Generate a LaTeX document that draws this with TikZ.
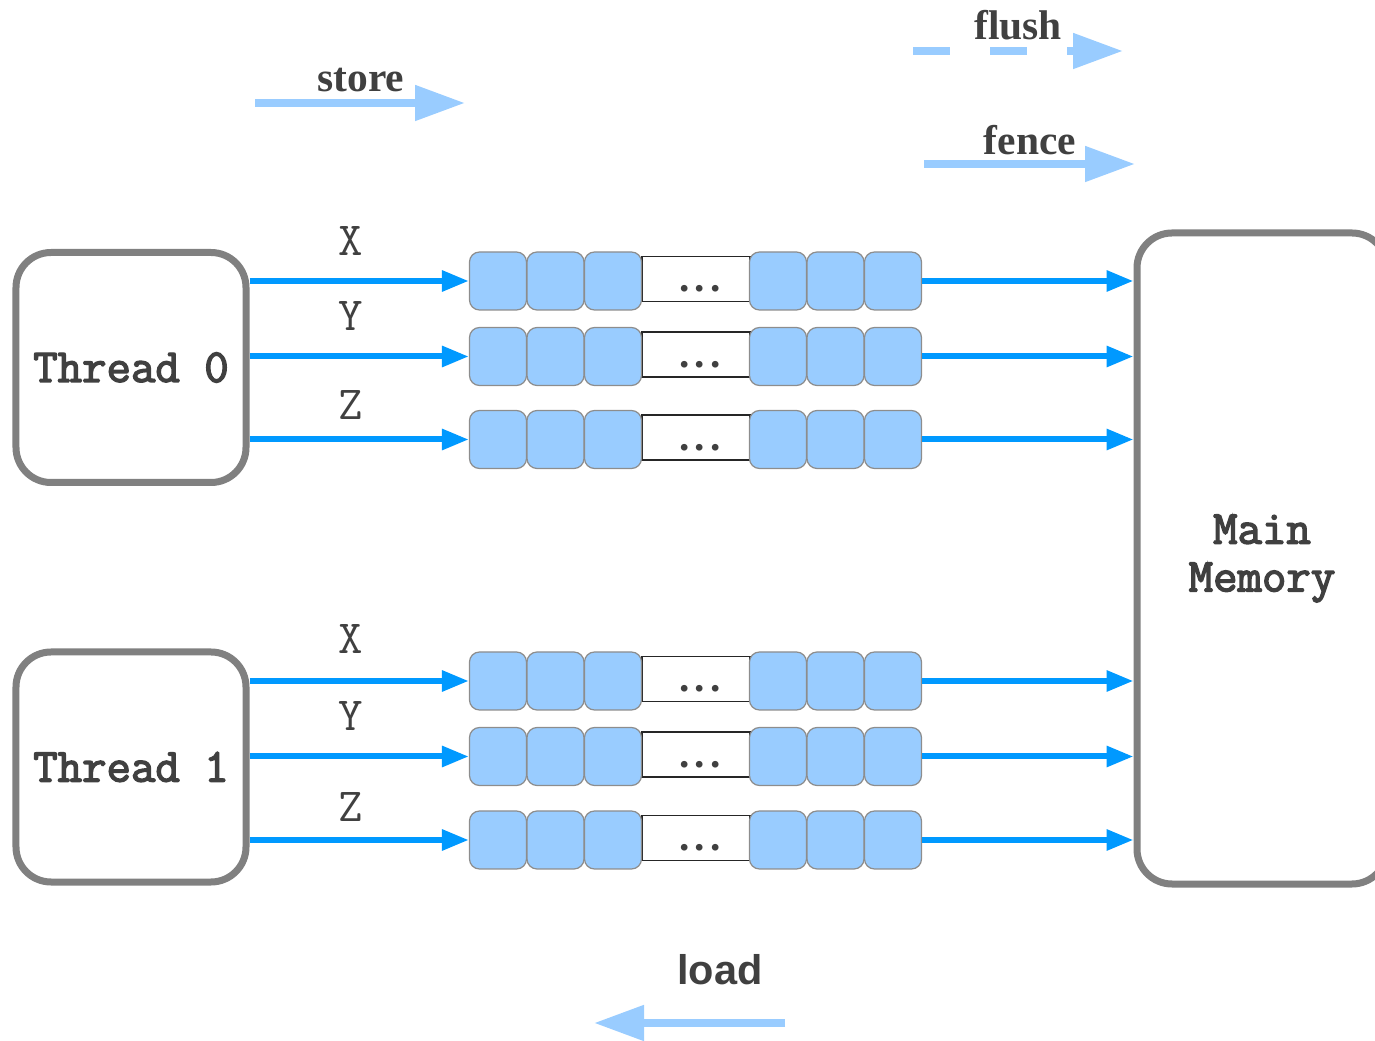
\documentclass[tikz,border=0pt]{standalone}
\usepackage{fontspec}
\setmainfont{Liberation Serif}
\setsansfont{Liberation Sans}
\newfontfamily\monob{Latin Modern Mono}[FakeBold=3]
\usepackage{tikz}
\usetikzlibrary{arrows.meta}
\definecolor{flowblue}{HTML}{0099FF}
\definecolor{cellblue}{HTML}{99CCFF}
\definecolor{boxgray}{HTML}{808080}
\definecolor{textgray}{HTML}{404040}

\begin{document}
\begin{tikzpicture}[x=0.2mm, y=-0.2mm,%1px = 0.2mm
    big/.style = {font=\fontsize{23.6}{27.2}\selectfont, text=textgray},
    unit/.style = {draw=boxgray, line width=1.4mm, rounded corners=7mm, fill=white,
                   big, font=\fontsize{27}{27.2}\selectfont\monob, align=center},
    cell/.style = {draw=boxgray!90, line width=0.25mm, rounded corners=2mm, fill=cellblue,
                   minimum width=11.4mm, minimum height=11.6mm, inner sep=0pt},
    gap/.style = {draw=black!85, line width=0.3mm, minimum width=21.6mm, minimum height=9mm, inner sep=0pt},
    flow/.style = {flowblue, line width=1.2mm, -{Triangle[length=5.4mm, width=4mm]}},
    legend/.style = {cellblue, line width=1.6mm, -{Triangle[length=10mm, width=6.8mm]}},
    tag/.style = {big, font=\fontsize{27}{27.2}\selectfont\ttfamily, inner sep=0pt}]
  \useasboundingbox (0,0) rectangle (1375,1041);

  % threads and memory
  \node[unit, minimum width=46mm, minimum height=46mm] (t0) at (131,367.5) {Thread 0};
  \node[unit, minimum width=46mm, minimum height=46mm] (t1) at (131,767) {Thread 1};
  \node[unit, minimum width=50mm, minimum height=130.2mm] (mem) at (1262,558.5) {Main\\Memory};

  % store buffers
  \foreach \r/\y in {0x/281, 0y/356.5, 0z/439.5, 1x/681, 1y/756.5, 1z/840} {
    \node[gap] (\r-m) at (696,\y-2) {};
    \node[big, font=\fontsize{23.6}{27.2}\selectfont\bfseries, anchor=base, inner sep=0pt] (\r-d) at (700,\y+11) {.\kern3pt.\kern3pt.};
    \foreach \i/\x in {1/498, 2/555.5, 3/613, 4/778, 5/835.5, 6/893}
      \node[cell] (\r-\i) at (\x,\y) {};
  }

  % thread -> buffer -> memory
  \foreach \t/\r/\lab/\g in {0/0x/X/4.4mm, 0/0y/Y/4.6mm, 0/0z/Z/3.4mm,
                             1/1x/X/4.8mm, 1/1y/Y/4.6mm, 1/1z/Z/3.0mm} {
    \draw[flow] (t\t.east |- \r-1.west) -- (\r-1.west)
      node[tag, pos=0.46, above=\g] {\lab};
    \draw[flow] (\r-6.east) -- (\r-6.east -| mem.west);
  }

  % legend
  \coordinate (st-a) at (255,103);
  \coordinate (st-b) at (465,103);
  \draw[legend] (st-a) -- (st-b);
  \node[big, font=\fontsize{23.6}{27.2}\selectfont\bfseries] (store) at (361,80) {store};

  \coordinate (fl-a) at (913,51);
  \coordinate (fl-b) at (1123,51);
  \draw[legend, dash pattern=on 7.4mm off 8mm] (fl-a) -- (fl-b);
  \node[big, font=\fontsize{23.6}{27.2}\selectfont\bfseries] (flush) at (1018,25) {flush};

  \coordinate (fe-a) at (924,164);
  \coordinate (fe-b) at (1135,164);
  \draw[legend] (fe-a) -- (fe-b);
  \node[big, font=\fontsize{23.6}{27.2}\selectfont\bfseries] (fence) at (1030,140) {fence};

  \coordinate (ld-a) at (785,1023);
  \coordinate (ld-b) at (594,1023);
  \draw[legend] (ld-a) -- (ld-b);
  \node[big, font=\fontsize{23.6}{27.2}\selectfont\sffamily\bfseries] (load) at (720,970) {load};
\end{tikzpicture}
\end{document}
